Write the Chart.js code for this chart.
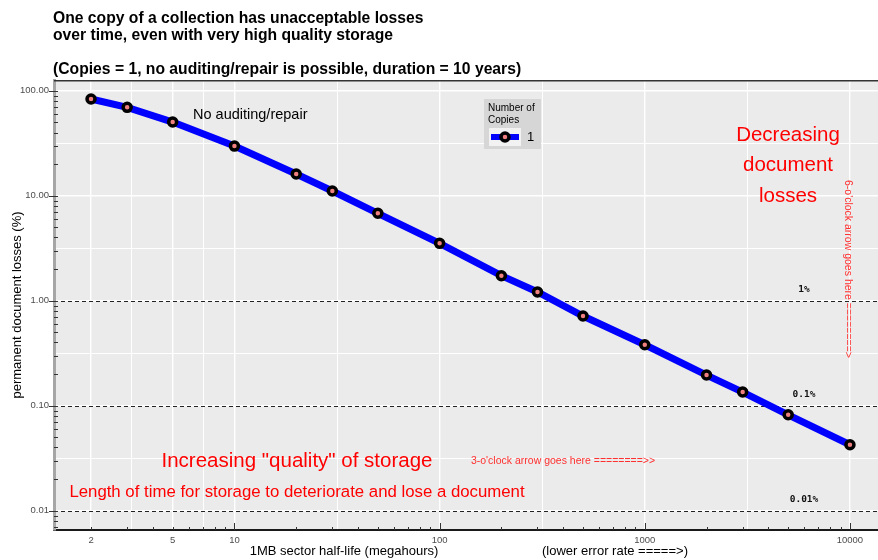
<!DOCTYPE html>
<html>
<head>
<meta charset="utf-8">
<script src="https://cdn.jsdelivr.net/npm/chart.js@4.4.1/dist/chart.umd.min.js"></script>
<style>
  html, body { margin: 0; padding: 0; background: #fff; }
  #wrap { width: 878px; height: 560px; }
</style>
</head>
<body>
<div id="wrap"><canvas id="lossChart"></canvas></div>
<script>
// data
const halfLife = [2, 3, 5, 10, 20, 30, 50, 100, 200, 300, 500, 1000, 2000, 3000, 5000, 10000];
const lossPct = [83.4, 69.5, 50.3, 29.7, 16.1, 11.1, 6.8, 3.52, 1.73, 1.21, 0.715, 0.381, 0.196, 0.135, 0.082, 0.0425];
const seriesName = '1';

const xTickLabels = [2, 5, 10, 100, 1000, 10000];
const xGridValues = [2, 3.162, 5, 7.071, 10, 31.62, 100, 316.2, 1000, 3162, 10000];
const yTickLabels = [0.01, 0.1, 1, 10, 100];
const yGridValues = [0.01, 0.03162, 0.1, 0.3162, 1, 3.162, 10, 31.62, 100];
const thresholdLines = [1, 0.1, 0.01];
const thresholdLabels = ['1%', '0.1%', '0.01%'];

const FONT = '"Liberation Sans", Arial, sans-serif';
Chart.defaults.font.family = FONT;

function text(ctx, str, x, y, font, color, align) {
    ctx.font = font;
    ctx.fillStyle = color;
    ctx.textAlign = align || 'left';
    ctx.textBaseline = 'middle';
    ctx.fillText(str, x, y);
}

const decor = {
    id: 'decor',
    beforeDraw(chart) {
        const { ctx, chartArea: a } = chart;
        ctx.save();
        ctx.fillStyle = '#ebebeb';
        ctx.fillRect(a.left, a.top, a.right - a.left, a.bottom - a.top);
        ctx.restore();
    },
    beforeDatasetsDraw(chart) {
        const { ctx, chartArea: a, scales: { x, y } } = chart;
        ctx.save();
        // dashed threshold lines
        ctx.strokeStyle = '#222';
        ctx.lineWidth = 1;
        ctx.setLineDash([4, 3]);
        thresholdLines.forEach(v => {
            const py = Math.round(y.getPixelForValue(v)) + 0.5;
            ctx.beginPath();
            ctx.moveTo(a.left, py);
            ctx.lineTo(a.right, py);
            ctx.stroke();
        });
        ctx.setLineDash([]);

        // top frame line
        ctx.strokeStyle = '#333';
        ctx.lineWidth = 1.5;
        ctx.beginPath();
        ctx.moveTo(a.left, a.top + 0.75);
        ctx.lineTo(a.right, a.top + 0.75);
        ctx.stroke();

        // minor / major tick marks
        ctx.strokeStyle = '#333';
        ctx.lineWidth = 1;
        for (let d = 1; d <= 10000; d *= 10) {
            for (let k = 1; k <= 9; k++) {
                const v = k * d;
                if (v < x.min || v > x.max) continue;
                const px = Math.round(x.getPixelForValue(v)) + 0.5;
                const len = k === 1 ? 7 : 3;
                ctx.beginPath();
                ctx.moveTo(px, a.bottom - len);
                ctx.lineTo(px, a.bottom);
                ctx.stroke();
            }
        }
        for (let d = 0.001; d <= 100; d *= 10) {
            for (let k = 1; k <= 9; k++) {
                const v = k * d;
                if (v < y.min || v > y.max) continue;
                const py = Math.round(y.getPixelForValue(v)) + 0.5;
                ctx.beginPath();
                ctx.moveTo(k === 1 ? a.left - 5 : a.left, py);
                ctx.lineTo(a.left + 4, py);
                ctx.stroke();
            }
        }
        ctx.restore();
    },
    afterDraw(chart) {
        const { ctx, scales: { y } } = chart;
        ctx.save();

        // titles
        const bold = 'bold 15.7px ' + FONT;
        text(ctx, 'One copy of a collection has unacceptable losses', 53, 18.5, bold, '#000');
        text(ctx, 'over time, even with very high quality storage', 53, 35.5, bold, '#000');
        text(ctx, '(Copies = 1, no auditing/repair is possible, duration = 10 years)', 53, 69.5, bold, '#000');

        // axis titles
        text(ctx, '1MB sector half-life (megahours)', 344, 551, '13px ' + FONT, '#000', 'center');
        text(ctx, '(lower error rate =====>)', 615, 551, '13px ' + FONT, '#000', 'center');
        ctx.save();
        ctx.translate(17, 305);
        ctx.rotate(-Math.PI / 2);
        text(ctx, 'permanent document losses (%)', 0, 0, '13px ' + FONT, '#000', 'center');
        ctx.restore();

        // annotations
        text(ctx, 'No auditing/repair', 193, 115, '14.5px ' + FONT, '#000');
        text(ctx, 'Increasing "quality" of storage', 297, 461, '20.5px ' + FONT, '#ff0000', 'center');
        text(ctx, 'Length of time for storage to deteriorate and lose a document', 297, 492, '16.8px ' + FONT, '#ff0000', 'center');
        text(ctx, "3-o'clock arrow goes here ========>>", 563, 461, '10.5px ' + FONT, '#ff3030', 'center');
        ['Decreasing', 'document', 'losses'].forEach((s, i) =>
            text(ctx, s, 788, 135 + i * 30.5, '20.5px ' + FONT, '#ff0000', 'center'));
        ctx.save();
        ctx.translate(848, 269);
        ctx.rotate(Math.PI / 2);
        text(ctx, "6-o'clock arrow goes here ========>", 0, 0, '10.5px ' + FONT, '#ff3030', 'center');
        ctx.restore();

        thresholdLines.forEach((v, i) =>
            text(ctx, thresholdLabels[i], 804, y.getPixelForValue(v) - 11, 'bold 9.5px "DejaVu Sans Mono", monospace', '#111', 'center'));

        // legend
        ctx.fillStyle = '#d6d6d6';
        ctx.fillRect(484, 99, 57, 50);
        text(ctx, 'Number of', 488, 108, '10px ' + FONT, '#000');
        text(ctx, 'Copies', 488, 120, '10px ' + FONT, '#000');
        ctx.fillStyle = '#f2f2f2';
        ctx.fillRect(489, 128, 32, 18);
        ctx.strokeStyle = '#0000ff';
        ctx.lineWidth = 6;
        ctx.beginPath();
        ctx.moveTo(491, 137);
        ctx.lineTo(519, 137);
        ctx.stroke();
        ctx.beginPath();
        ctx.arc(505, 137, 4, 0, Math.PI * 2);
        ctx.fillStyle = '#f08080';
        ctx.fill();
        ctx.strokeStyle = '#000';
        ctx.lineWidth = 3.5;
        ctx.stroke();
        text(ctx, seriesName, 527, 137, '13px ' + FONT, '#000');

        ctx.restore();
    }
};

new Chart(document.getElementById('lossChart'), {
    type: 'line',
    data: {
        datasets: [{
            label: seriesName,
            data: halfLife.map((h, i) => ({ x: h, y: lossPct[i] })),
            borderColor: '#0000ff',
            borderWidth: 7,
            tension: 0,
            pointRadius: 4,
            pointBorderWidth: 3.5,
            pointBorderColor: '#000',
            pointBackgroundColor: '#f08080'
        }]
    },
    options: {
        responsive: true,
        maintainAspectRatio: false,
        animation: false,
        events: [],
        layout: { autoPadding: false, padding: { top: 80, left: 0, right: 0, bottom: 0 } },
        plugins: { legend: { display: false }, tooltip: { enabled: false } },
        scales: {
            x: {
                type: 'logarithmic',
                min: 1.32,
                max: 13700,
                afterBuildTicks: s => { s.ticks = xGridValues.map(v => ({ value: v })); },
                afterFit: s => { s.height = 30; },
                ticks: {
                    autoSkip: false,
                    maxRotation: 0,
                    padding: 5,
                    color: '#4d4d4d',
                    font: { size: 9.5 },
                    callback: v => xTickLabels.includes(v) ? String(v) : ''
                },
                grid: {
                    drawTicks: false,
                    color: '#ffffff',
                    lineWidth: c => xTickLabels.includes(c.tick && c.tick.value) ? 1.4 : 1
                },
                border: { color: '#1a1a1a', width: 2 }
            },
            y: {
                type: 'logarithmic',
                min: 0.00655,
                max: 126.5,
                afterBuildTicks: s => { s.ticks = yGridValues.map(v => ({ value: v })); },
                afterFit: s => { s.width = 54; },
                ticks: {
                    autoSkip: false,
                    padding: 5,
                    color: '#4d4d4d',
                    font: { size: 9.5 },
                    callback: v => yTickLabels.includes(v) ? v.toFixed(2) : ''
                },
                grid: {
                    drawTicks: false,
                    color: '#ffffff',
                    lineWidth: c => yTickLabels.includes(c.tick && c.tick.value) ? 1.4 : 1
                },
                border: { color: '#a6a6a6', width: 3 }
            }
        }
    },
    plugins: [decor]
});
</script>
</body>
</html>
